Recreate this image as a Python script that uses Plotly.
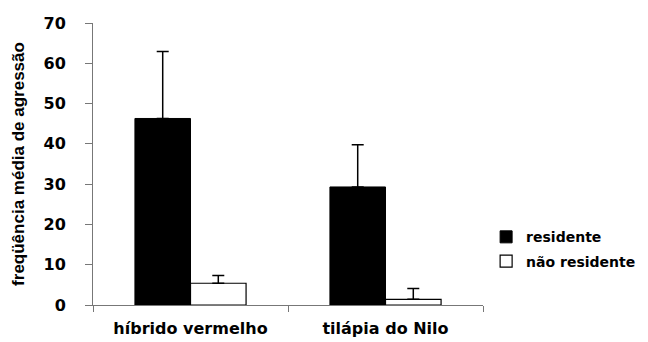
import plotly.graph_objects as go

categories = ["híbrido vermelho", "tilápia do Nilo"]
residente = [46.3, 29.3]
residente_err = [16.6, 10.5]
nao_residente = [5.4, 1.4]
nao_residente_err = [1.9, 2.7]
series_names = ["residente", "não residente"]
y_ticks = [0, 10, 20, 30, 40, 50, 60, 70]

FONT = dict(family="DejaVu Sans, Liberation Sans, Arial, sans-serif", color="black", weight="bold")
TITLE_FONT = dict(family="Liberation Sans, Arial, sans-serif", color="black", weight="bold")

fig = go.Figure()
fig.add_trace(go.Bar(
    x=categories, y=residente, name=series_names[0], legendgroup="a",
    marker=dict(color="black", line=dict(color="black", width=1)),
    error_y=dict(type="data", array=residente_err, symmetric=False,
                 arrayminus=[0, 0], color="black", thickness=1.5, width=6),
))
fig.add_trace(go.Bar(
    x=categories, y=nao_residente, name=series_names[1], legendgroup="b",
    marker=dict(color="white", line=dict(color="black", width=1.2)),
    error_y=dict(type="data", array=nao_residente_err, symmetric=False,
                 arrayminus=[0, 0], color="black", thickness=1.5, width=6),
))

# page has an 8px body margin, so the figure is 8px smaller than the window
fig.update_layout(
    width=640, height=334,
    margin=dict(l=85, r=165, t=15, b=37, autoexpand=False),
    paper_bgcolor="white", plot_bgcolor="white",
    barmode="group", bargap=0.43, bargroupgap=0,
    font=dict(size=14, **FONT),
    showlegend=True,
    legend=dict(x=1.008, y=0.297, xanchor="left", yanchor="top",
                font=dict(size=14, **FONT), bgcolor="rgba(0,0,0,0)",
                traceorder="grouped", tracegroupgap=3, itemwidth=30),
    xaxis=dict(
        range=[-0.5, 1.5], showline=True, linecolor="#777777", linewidth=1,
        ticks="outside", tickson="boundaries", ticklen=6, tickcolor="#777777",
        tickfont=dict(size=16, **FONT), showgrid=False, zeroline=False,
        ticklabelstandoff=9, automargin=False,
    ),
    yaxis=dict(
        range=[0, 70], tickvals=y_ticks, showline=True, linecolor="#777777",
        linewidth=1, ticks="outside", ticklen=7, tickcolor="#777777",
        tickfont=dict(size=16, **FONT), showgrid=False, zeroline=False,
        ticklabelstandoff=16, automargin=False,
        title=dict(text="freqüência média de agressão", font=dict(size=17, **TITLE_FONT),
                   standoff=14),
    ),
)

fig.write_html("out.html")
